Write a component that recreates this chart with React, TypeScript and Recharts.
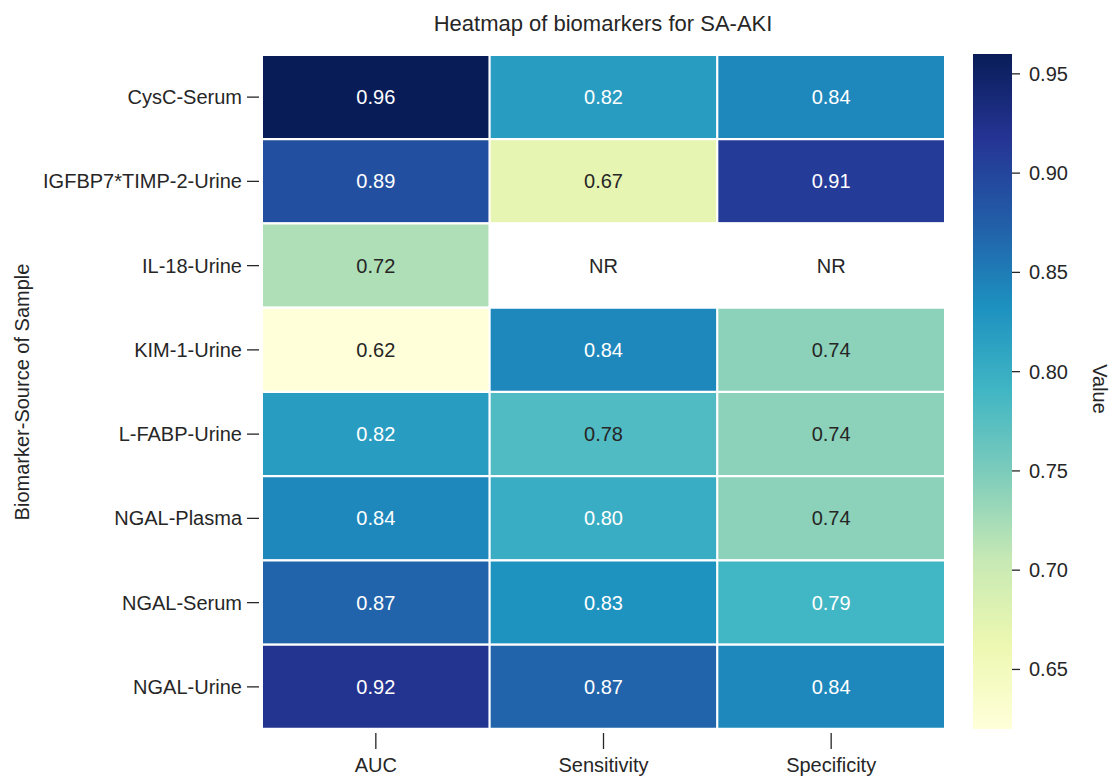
import React from "react";
import { BarChart, Bar, XAxis, YAxis, Cell, LabelList } from "recharts";

const rows = [
  "CysC-Serum",
  "IGFBP7*TIMP-2-Urine",
  "IL-18-Urine",
  "KIM-1-Urine",
  "L-FABP-Urine",
  "NGAL-Plasma",
  "NGAL-Serum",
  "NGAL-Urine",
];
const metrics = ["AUC", "Sensitivity", "Specificity"];
const auc = [0.96, 0.89, 0.72, 0.62, 0.82, 0.84, 0.87, 0.92];
const sensitivity: (number | null)[] = [0.82, 0.67, null, 0.84, 0.78, 0.8, 0.83, 0.87];
const specificity: (number | null)[] = [0.84, 0.91, null, 0.74, 0.74, 0.74, 0.79, 0.84];
const colorbarTicks = [0.65, 0.7, 0.75, 0.8, 0.85, 0.9, 0.95];
const vmin = 0.62;
const vmax = 0.96;

const palette = [
  "#ffffd9", "#edf8b1", "#c7e9b4", "#7fcdbb", "#41b6c4",
  "#1d91c0", "#225ea8", "#253494", "#081d58",
];

const FONT = "'Liberation Sans', Arial, Helvetica, sans-serif";
const TXT = "#262626";
const FS = 20;

function hexToRgb(h: string) {
  return [parseInt(h.slice(1, 3), 16), parseInt(h.slice(3, 5), 16), parseInt(h.slice(5, 7), 16)];
}
function colorRgb(v: number) {
  let t = (v - vmin) / (vmax - vmin);
  t = Math.max(0, Math.min(1, t));
  const p = t * (palette.length - 1);
  const i = Math.min(Math.floor(p), palette.length - 2);
  const f = p - i;
  const a = hexToRgb(palette[i]);
  const b = hexToRgb(palette[i + 1]);
  return [0, 1, 2].map((k) => a[k] + (b[k] - a[k]) * f);
}
function colorOf(v: number | null) {
  if (v === null) return "#ffffff";
  const c = colorRgb(v);
  return `rgb(${c.map((x) => Math.round(x)).join(",")})`;
}
function textColor(v: number | null) {
  if (v === null) return TXT;
  const c = colorRgb(v).map((x) => {
    const s = x / 255;
    return s <= 0.03928 ? s / 12.92 : Math.pow((s + 0.055) / 1.055, 2.4);
  });
  const lum = 0.2126 * c[0] + 0.7152 * c[1] + 0.0722 * c[2];
  return lum > 0.408 ? TXT : "#ffffff";
}

const series = [auc, sensitivity, specificity];
const tableData = rows.map((name, r) => {
  const o: any = { name };
  series.forEach((s, j) => {
    o[`c${j}`] = 1;
    o[`t${j}`] = s[r] === null ? "NR" : (s[r] as number).toFixed(2);
  });
  return o;
});

const renderCellLabel = (props: any) => {
  const { x, y, width, height, value } = props;
  const num = value === "NR" ? null : parseFloat(value);
  return (
    <text
      x={x + width / 2}
      y={y + height / 2}
      textAnchor="middle"
      dominantBaseline="central"
      fontFamily={FONT}
      fontSize={FS}
      fill={textColor(num)}
    >
      {value}
    </text>
  );
};

const YTick = (props: any) => {
  const { x, y, payload } = props;
  return (
    <g>
      <line x1={x - 15} x2={x - 3} y1={y} y2={y} stroke={TXT} strokeWidth={1.3} />
      <text x={x - 20} y={y} textAnchor="end" dominantBaseline="central" fontFamily={FONT} fontSize={FS} fill={TXT}>
        {payload.value}
      </text>
    </g>
  );
};

const XTick = (props: any) => {
  const { x, y, payload } = props;
  const idx = Math.round(payload.value - 0.5);
  return (
    <g>
      <line x1={x} x2={x} y1={y + 4} y2={y + 20} stroke={TXT} strokeWidth={1.3} />
      <text x={x} y={y + 43} textAnchor="middle" fontFamily={FONT} fontSize={FS} fill={TXT}>
        {metrics[idx]}
      </text>
    </g>
  );
};

const CbTick = (props: any) => {
  const { x, y, payload } = props;
  return (
    <g>
      <line x1={x} x2={x + 8} y1={y} y2={y} stroke={TXT} strokeWidth={1.3} />
      <text x={x + 17} y={y} textAnchor="start" dominantBaseline="central" fontFamily={FONT} fontSize={FS} fill={TXT}>
        {payload.value.toFixed(2)}
      </text>
    </g>
  );
};

const colorbarData = [{ name: "cb", range: [vmin, vmax] }];

export default function App() {
  return (
    <div style={{ position: "absolute", left: 0, top: 0, width: 1115, height: 776, background: "#fff" }}>
      <div style={{ position: "absolute", left: 0, top: 0 }}>
        <BarChart
          width={960}
          height={776}
          data={tableData}
          layout="vertical"
          margin={{ top: 55, right: 15, bottom: 0, left: 0 }}
          barCategoryGap={0}
        >
          <text x={603} y={31} textAnchor="middle" fontFamily={FONT} fontSize={22} fill={TXT}>
            Heatmap of biomarkers for SA-AKI
          </text>
          <text
            x={22}
            y={392}
            textAnchor="middle"
            dominantBaseline="central"
            transform="rotate(-90 22 392)"
            fontFamily={FONT}
            fontSize={FS}
            fill={TXT}
          >
            Biomarker-Source of Sample
          </text>
          <XAxis
            type="number"
            domain={[0, 3]}
            ticks={[0.5, 1.5, 2.5]}
            height={47}
            axisLine={false}
            tickLine={false}
            tickSize={0}
            tickMargin={0}
            tick={<XTick />}
            interval={0}
          />
          <YAxis
            type="category"
            dataKey="name"
            width={262}
            axisLine={false}
            tickLine={false}
            tickSize={0}
            tickMargin={0}
            tick={<YTick />}
            interval={0}
          />
          {[0, 1, 2].map((j) => (
            <Bar key={j} dataKey={`c${j}`} stackId="a" isAnimationActive={false}>
              {rows.map((_, r) => (
                <Cell key={r} fill={colorOf(series[j][r])} stroke="#ffffff" strokeWidth={2} />
              ))}
              <LabelList dataKey={`t${j}`} content={renderCellLabel} />
            </Bar>
          ))}
        </BarChart>
      </div>
      <div style={{ position: "absolute", left: 973, top: 0 }}>
        <BarChart
          width={142}
          height={776}
          data={colorbarData}
          margin={{ top: 54, right: 0, bottom: 47, left: 0 }}
          barCategoryGap={0}
        >
          <defs>
            <linearGradient id="cbGrad" x1="0" y1="1" x2="0" y2="0">
              {palette.map((c, i) => (
                <stop key={i} offset={`${(i / (palette.length - 1)) * 100}%`} stopColor={c} />
              ))}
            </linearGradient>
          </defs>
          <text
            x={127}
            y={389}
            textAnchor="middle"
            dominantBaseline="central"
            transform="rotate(90 127 389)"
            fontFamily={FONT}
            fontSize={FS}
            fill={TXT}
          >
            Value
          </text>
          <XAxis dataKey="name" hide />
          <YAxis
            orientation="right"
            type="number"
            domain={[vmin, vmax]}
            ticks={colorbarTicks}
            width={103}
            axisLine={false}
            tickLine={false}
            tickSize={0}
            tickMargin={0}
            tick={<CbTick />}
            interval={0}
          />
          <Bar dataKey="range" fill="url(#cbGrad)" isAnimationActive={false} />
        </BarChart>
      </div>
    </div>
  );
}
